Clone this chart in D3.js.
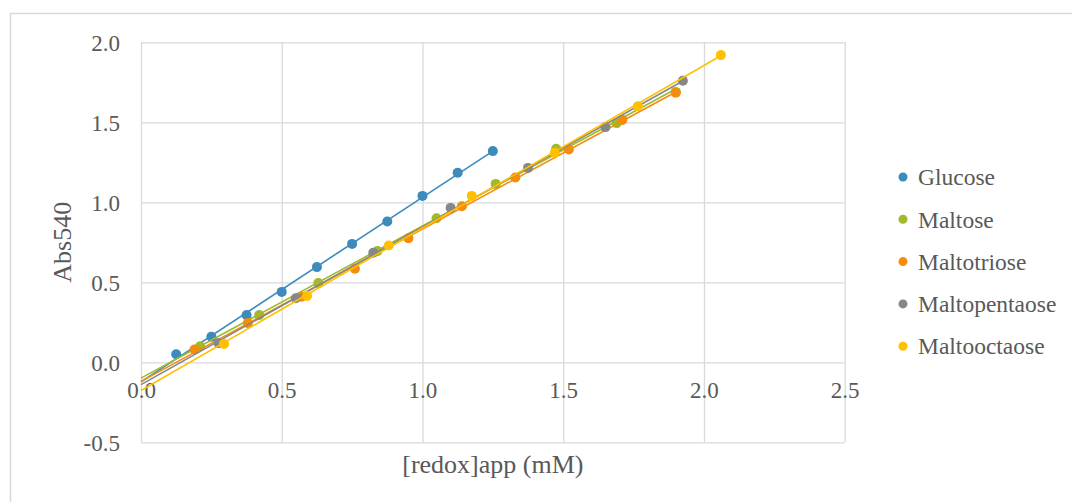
<!DOCTYPE html>
<html>
<head>
<meta charset="utf-8">
<title>Abs540 vs [redox]app</title>
<script src="https://d3js.org/d3.v7.min.js"></script>
<style>
  body { margin: 0; background: #fff; }
  text { font-family: "Liberation Serif", "Times New Roman", serif; fill: #595959; }
</style>
</head>
<body>
<div id="chart"></div>
<script>
// values
var seriesNames = ["Glucose", "Maltose", "Maltotriose", "Maltopentaose", "Maltooctaose"];
var seriesColors = ["#3d8bbd", "#9fba2c", "#f58c0a", "#878787", "#ffc000"];

var glucoseX = [0.125, 0.25, 0.375, 0.5, 0.625, 0.75, 0.875, 1.0, 1.125, 1.25];
var glucoseY = [0.05, 0.16, 0.295, 0.44, 0.595, 0.74, 0.88, 1.04, 1.185, 1.32];

var maltoseX = [0.21, 0.42, 0.63, 0.84, 1.05, 1.26, 1.475, 1.69, 1.90];
var maltoseY = [0.10, 0.295, 0.495, 0.695, 0.90, 1.115, 1.335, 1.495, 1.69];

var maltotrioseX = [0.19, 0.38, 0.57, 0.76, 0.95, 1.14, 1.33, 1.52, 1.71, 1.90];
var maltotrioseY = [0.08, 0.245, 0.41, 0.585, 0.775, 0.975, 1.155, 1.33, 1.515, 1.685];

var maltopentaoseX = [0.275, 0.55, 0.825, 1.10, 1.375, 1.65, 1.925];
var maltopentaoseY = [0.12, 0.40, 0.685, 0.965, 1.215, 1.47, 1.76];

var maltooctaoseX = [0.295, 0.59, 0.88, 1.175, 1.47, 1.765, 2.06];
var maltooctaoseY = [0.115, 0.415, 0.73, 1.04, 1.31, 1.60, 1.92];

var xTicks = [0.0, 0.5, 1.0, 1.5, 2.0, 2.5];
var yTicks = [-0.5, 0.0, 0.5, 1.0, 1.5, 2.0];

var allX = [glucoseX, maltoseX, maltotrioseX, maltopentaoseX, maltooctaoseX];
var allY = [glucoseY, maltoseY, maltotrioseY, maltopentaoseY, maltooctaoseY];

var W = 1072, H = 502;
var plot = {left: 141, right: 844.7, top: 42.3, bottom: 442.3};

// plain hyphen for negatives, like the original
var fmt = function(d) { return d3.format(".1f")(d).replace("\u2212", "-"); };

var svg = d3.select("#chart").append("svg")
    .attr("width", W)
    .attr("height", H);

// outer chart border
svg.append("rect")
    .attr("x", 10.5).attr("y", 13.5)
    .attr("width", 1200).attr("height", 700)
    .attr("fill", "none")
    .attr("stroke", "#d9d9d9")
    .attr("stroke-width", 1.5);

var x = d3.scaleLinear().domain([0, 2.5]).range([plot.left, plot.right]);
var y = d3.scaleLinear().domain([-0.5, 2.0]).range([plot.bottom, plot.top]);

// gridlines
svg.append("g")
    .attr("transform", "translate(0," + plot.bottom + ")")
    .call(d3.axisBottom(x).tickValues(xTicks).tickSize(-(plot.bottom - plot.top)).tickFormat(""))
    .call(function(g) { g.select(".domain").remove(); })
    .selectAll("line").attr("stroke", "#d9d9d9").attr("stroke-width", 1.3);

svg.append("g")
    .attr("transform", "translate(" + plot.left + ",0)")
    .call(d3.axisLeft(y).tickValues(yTicks).tickSize(-(plot.right - plot.left)).tickFormat(""))
    .call(function(g) { g.select(".domain").remove(); })
    .selectAll("line").attr("stroke", "#d9d9d9").attr("stroke-width", 1.3);

// y tick labels
svg.append("g")
    .attr("transform", "translate(" + (plot.left - 21) + ",0)")
    .call(d3.axisLeft(y).tickValues(yTicks).tickSize(0).tickFormat(fmt))
    .call(function(g) { g.select(".domain").remove(); })
    .selectAll("text")
    .style("font-size", "23px")
    .attr("dy", "0.36em")
    .attr("x", 0);

// x tick labels, the axis crosses at y = 0
svg.append("g")
    .attr("transform", "translate(0," + y(0) + ")")
    .call(d3.axisBottom(x).tickValues(xTicks).tickSize(0).tickFormat(fmt))
    .call(function(g) { g.select(".domain").remove(); })
    .selectAll("text")
    .style("font-size", "23px")
    .attr("y", 36)
    .attr("dy", 0);

// axis titles
svg.append("text")
    .attr("x", (plot.left + plot.right) / 2)
    .attr("y", 473)
    .attr("text-anchor", "middle")
    .style("font-size", "26px")
    .text("[redox]app (mM)");

svg.append("text")
    .attr("transform", "translate(71," + ((plot.top + plot.bottom) / 2) + ") rotate(-90)")
    .attr("text-anchor", "middle")
    .style("font-size", "26px")
    .text("Abs540");

// linear trendlines from x = 0 up to the last point, then markers
seriesNames.forEach(function(name, i) {
    var xs = allX[i], ys = allY[i];
    var pts = xs.map(function(v, j) { return {x: v, y: ys[j]}; });
    var mx = d3.mean(xs), my = d3.mean(ys);
    var sxy = d3.sum(pts, function(p) { return (p.x - mx) * (p.y - my); });
    var sxx = d3.sum(pts, function(p) { return (p.x - mx) * (p.x - mx); });
    var slope = sxy / sxx, icpt = my - slope * mx;
    var ends = [0, d3.max(xs)].map(function(v) { return {x: v, y: icpt + slope * v}; });

    svg.append("path")
        .datum(ends)
        .attr("fill", "none")
        .attr("stroke", seriesColors[i])
        .attr("stroke-width", 1.6)
        .attr("d", d3.line()
            .x(function(d) { return x(d.x); })
            .y(function(d) { return y(d.y); }));

    svg.append("g").selectAll("circle")
        .data(pts)
        .enter().append("circle")
        .attr("cx", function(d) { return x(d.x); })
        .attr("cy", function(d) { return y(d.y); })
        .attr("r", 5)
        .attr("fill", seriesColors[i]);
});

// legend
var legend = svg.append("g").attr("transform", "translate(903,177)");
seriesNames.forEach(function(name, i) {
    legend.append("circle")
        .attr("cx", 0).attr("cy", i * 42.3)
        .attr("r", 4.5)
        .attr("fill", seriesColors[i]);
    legend.append("text")
        .attr("x", 15).attr("y", i * 42.3)
        .attr("dy", "0.35em")
        .style("font-size", "23.5px")
        .text(name);
});
</script>
</body>
</html>
